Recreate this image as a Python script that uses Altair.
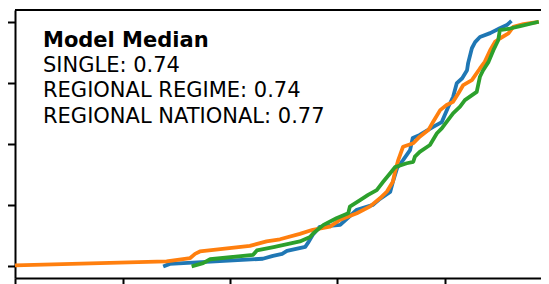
import altair as alt
import pandas as pd

# ---- data ----
single_x = [0.279, 0.288, 0.461, 0.480, 0.497, 0.506, 0.540, 0.545, 0.554, 0.567, 0.605, 0.636,
            0.666, 0.679, 0.698, 0.703, 0.711, 0.722, 0.735, 0.740, 0.753, 0.778, 0.794, 0.806,
            0.815, 0.822, 0.832, 0.841, 0.843, 0.850, 0.856, 0.865, 0.884, 0.902, 0.915, 0.921]
single_y = [0.000, 0.008, 0.029, 0.041, 0.049, 0.061, 0.078, 0.094, 0.127, 0.160, 0.168, 0.230,
            0.250, 0.275, 0.303, 0.344, 0.402, 0.434, 0.475, 0.525, 0.537, 0.570, 0.590, 0.652,
            0.693, 0.750, 0.770, 0.803, 0.832, 0.893, 0.918, 0.939, 0.955, 0.975, 0.988, 1.000]

regime_x = [-0.030, 0.282, 0.326, 0.335, 0.344, 0.437, 0.468, 0.493, 0.530, 0.554, 0.586, 0.605,
            0.636, 0.660, 0.679, 0.692, 0.703, 0.707, 0.713, 0.722, 0.741, 0.753, 0.769, 0.778,
            0.791, 0.803, 0.815, 0.825, 0.834, 0.850, 0.865, 0.874, 0.884, 0.893, 0.902, 0.918,
            0.927, 0.946, 0.971]
regime_y = [0.000, 0.018, 0.032, 0.049, 0.059, 0.082, 0.100, 0.109, 0.131, 0.148, 0.161, 0.189,
            0.216, 0.243, 0.277, 0.305, 0.345, 0.386, 0.434, 0.489, 0.503, 0.530, 0.557, 0.591,
            0.639, 0.660, 0.673, 0.708, 0.742, 0.762, 0.810, 0.837, 0.885, 0.919, 0.933, 0.954,
            0.981, 0.992, 1.000]

national_x = [0.332, 0.350, 0.363, 0.443, 0.450, 0.481, 0.530, 0.549, 0.555, 0.574, 0.598, 0.620,
              0.623, 0.642, 0.657, 0.673, 0.685, 0.698, 0.707, 0.729, 0.741, 0.744, 0.753, 0.772,
              0.785, 0.794, 0.803, 0.815, 0.828, 0.837, 0.859, 0.865, 0.871, 0.881, 0.890, 0.899,
              0.902, 0.921, 0.940, 0.971]
national_y = [0.000, 0.011, 0.027, 0.045, 0.063, 0.077, 0.100, 0.118, 0.134, 0.168, 0.195, 0.216,
              0.243, 0.270, 0.291, 0.311, 0.345, 0.380, 0.405, 0.421, 0.427, 0.448, 0.468, 0.496,
              0.544, 0.564, 0.591, 0.626, 0.653, 0.680, 0.714, 0.776, 0.803, 0.837, 0.885, 0.926,
              0.967, 0.974, 0.984, 1.000]

series_names = ["SINGLE", "REGIONAL REGIME", "REGIONAL NATIONAL"]
series_colors = ["#1f77b4", "#ff7f0e", "#2ca02c"]
medians = ["0.74", "0.74", "0.77"]
x_ticks = [0, 0.2, 0.4, 0.6, 0.8]
y_ticks = [0, 0.25, 0.5, 0.75, 1.0]

W, H = 526, 268
PX_PER_UNIT = 537.5

def frame(xs, ys, name):
    return pd.DataFrame({"x": xs, "y": ys, "i": list(range(len(xs))), "model": name})

xscale = alt.Scale(domain=[0, W / PX_PER_UNIT], nice=False, zero=False)
yscale = alt.Scale(domain=[-0.05, 1.05], nice=False, zero=False)
xenc = alt.X("x:Q", scale=xscale,
             axis=alt.Axis(values=x_ticks, labels=False, title=None, grid=False, tickSize=10))
yenc = alt.Y("y:Q", scale=yscale,
             axis=alt.Axis(values=y_ticks, labels=False, title=None, grid=False, tickSize=10))

layers = []
for xs, ys, name, col in zip([single_x, regime_x, national_x],
                             [single_y, regime_y, national_y],
                             series_names, series_colors):
    layers.append(
        alt.Chart(frame(xs, ys, name)).mark_line(
            color=col, strokeWidth=3.8, clip=True, strokeJoin="round", strokeCap="square"
        ).encode(x=xenc, y=yenc, order="i:Q")
    )

top_spine = alt.Chart(pd.DataFrame({"a": [0]})).mark_rule(color="black", strokeWidth=2).encode(
    y=alt.value(0), x=alt.value(0), x2=alt.value(W)
)

title_txt = alt.Chart(pd.DataFrame({"t": ["Model Median"]})).mark_text(
    align="left", baseline="alphabetic", font="DejaVu Sans", fontSize=21,
    fontWeight="bold", color="black"
).encode(text="t:N", x=alt.value(28), y=alt.value(36.5))

body = "\n".join(f"{n}: {m}" for n, m in zip(series_names, medians))
body_txt = alt.Chart(pd.DataFrame({"t": [body]})).mark_text(
    align="left", baseline="alphabetic", font="DejaVu Sans", fontSize=21,
    color="black", lineBreak="\n", lineHeight=25.3
).encode(text="t:N", x=alt.value(28), y=alt.value(62))

chart = alt.layer(*layers, top_spine, title_txt, body_txt).properties(
    width=W, height=H,
    autosize=alt.AutoSizeParams(type="none"),
    padding={"left": 7, "top": 2, "right": 0, "bottom": 6},
    background="white",
).configure_view(stroke=None).configure_axis(
    domainColor="black", domainWidth=2, tickColor="black", tickWidth=2
)

chart.save("out.html", embed_options={"renderer": "svg", "actions": False})
